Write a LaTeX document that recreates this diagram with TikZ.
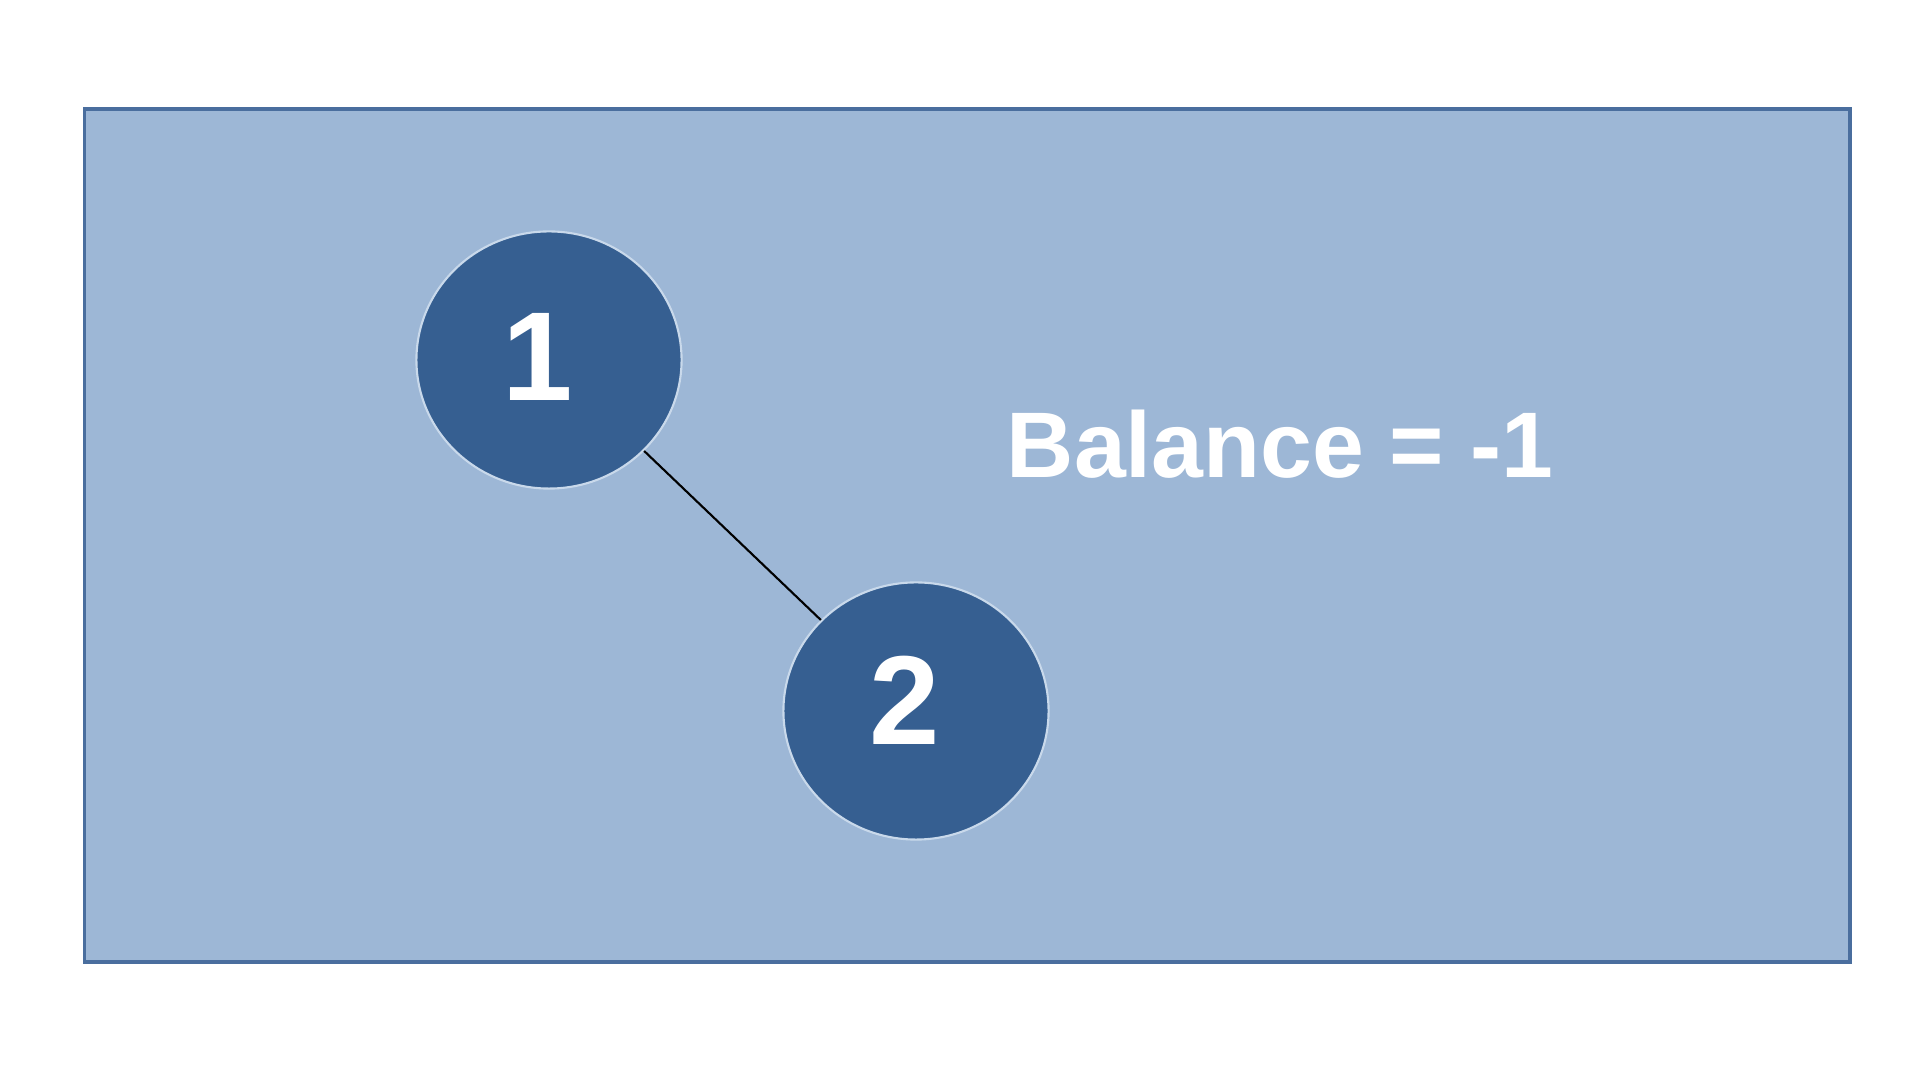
\documentclass[tikz,border=0pt]{standalone}
\usepackage{fontspec}
\setmainfont{Liberation Sans}
\usepackage{tikz}
\usetikzlibrary{shapes.geometric}
\definecolor{cpanel}{HTML}{9DB7D6}
\definecolor{cframe}{HTML}{4A6E9E}
\definecolor{cnode}{HTML}{365F91}
\definecolor{crim}{HTML}{C9D9EB}
\tikzset{
  panel/.style={draw=cframe, line width=0.9pt, fill=cpanel},
  tnode/.style={ellipse, draw=crim, line width=0.6pt, fill=cnode, minimum width=2.65cm, minimum height=2.57cm, inner sep=0pt, text=white, font=\fontsize{36}{42}\selectfont\bfseries, execute at end node={\hspace{0.22cm}}},
  link/.style={draw=black, line width=0.6pt},
  lbl/.style={text=white, font=\fontsize{26.5}{32}\selectfont\bfseries},
}
\begin{document}
\begin{tikzpicture}[x=0.01cm,y=0.01cm]
\useasboundingbox (0,0) rectangle (1920,-1080);
\draw[panel] (84.5,-109) rectangle (1850,-962);
\node[tnode, text depth=0.07cm] (n1) at (549,-360) {1};
\node[tnode, text depth=0.21cm] (n2) at (916,-711) {2};
\draw[link] (n1) -- (n2);
\node[lbl, anchor=base] (bal) at (1280,-478) {Balance = -1};
\end{tikzpicture}
\end{document}
